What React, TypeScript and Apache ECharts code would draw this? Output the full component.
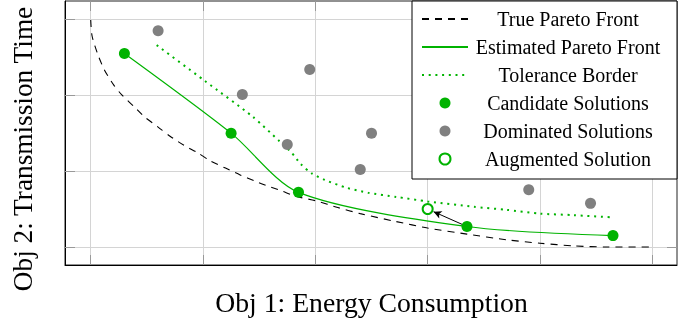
import React, { useEffect, useRef } from "react";
import * as echarts from "echarts";

const FONT = "'Liberation Serif', 'DejaVu Serif', serif";
const GREEN = "#00b300";
const GRAY = "#808080";

const xTicks = [0, 1, 2, 3, 4, 5];
const yTicks = [0, 1, 2, 3];

const truePareto: [number, number][] = [
  [0, 2.99], [0.012, 2.78], [0.065, 2.53], [0.123, 2.33], [0.207, 2.13],
  [0.279, 2.0], [0.379, 1.86], [0.483, 1.71], [0.6, 1.58], [0.706, 1.46],
  [0.83, 1.34], [0.955, 1.24], [1.07, 1.13], [1.2, 1.04], [1.33, 0.95],
  [1.46, 0.87], [1.58, 0.8], [1.7, 0.74], [1.82, 0.67], [2.0, 0.61],
  [2.2, 0.52], [2.4, 0.44], [2.72, 0.335], [3.0, 0.25], [3.35, 0.17],
  [3.7, 0.095], [4.0, 0.05], [4.3, 0.015], [4.6, 0.0], [5.0, 0.0],
];

const candidates: [number, number][] = [
  [0.3, 2.55], [1.25, 1.5], [1.85, 0.72], [3.35, 0.27], [4.65, 0.15],
];

const tolerance: [number, number][] = [
  [0.587, 2.66], [1.017, 2.187], [1.442, 1.717], [1.685, 1.387],
  [1.789, 1.242], [1.872, 1.09], [1.967, 0.971], [2.086, 0.883],
  [2.28, 0.78], [2.47, 0.715], [2.72, 0.66], [3.0, 0.6], [3.41, 0.53],
  [3.7, 0.49], [4.0, 0.44], [4.3, 0.42], [4.65, 0.39],
];

const dominated: [number, number][] = [
  [0.6, 2.85], [1.35, 2.01], [1.95, 2.34], [1.75, 1.35], [2.5, 1.5],
  [2.4, 1.02], [3.9, 0.755], [4.45, 0.575],
];

const augmented: [number, number][] = [[3.0, 0.5]];
const arrowFromIndex = 3;

const legendNames = [
  "True Pareto Front",
  "Estimated Pareto Front",
  "Tolerance Border",
  "Candidate Solutions",
  "Dominated Solutions",
  "Augmented Solution",
];

export default function App() {
  const ref = useRef<HTMLDivElement>(null);
  useEffect(() => {
    if (!ref.current) return;
    const chart = echarts.init(ref.current, undefined, { renderer: "svg" });
    const from = candidates[arrowFromIndex];
    const aug = augmented[0];
    const f = 0.15;
    const tip = [aug[0] + (from[0] - aug[0]) * f, aug[1] + (from[1] - aug[1]) * f];

    const xMin = -0.229, xMax = 5.22, yMin = -0.237, yMax = 3.241;
    const tickStyle = { show: true, inside: true, length: 10, lineStyle: { color: "#999", width: 1 } };
    const lineItems = [0, 1, 2];

    chart.setOption({
      animation: false,
      grid: { left: 65, right: 17, top: 1, bottom: 60, show: true, borderColor: "#222", borderWidth: 1, backgroundColor: "transparent" },
      xAxis: [
        {
          type: "value", min: xMin, max: xMax, position: "bottom",
          axisLine: { show: true, onZero: false, lineStyle: { color: "#000", width: 1 } },
          axisTick: { ...tickStyle, customValues: xTicks },
          axisLabel: { show: false, customValues: xTicks },
          splitLine: { show: true, lineStyle: { color: "#d4d4d4", width: 1 } },
        },
        {
          type: "value", min: xMin, max: xMax, position: "top",
          axisLine: { show: false, onZero: false },
          axisTick: { ...tickStyle, customValues: xTicks },
          axisLabel: { show: false, customValues: xTicks },
          splitLine: { show: false },
        },
      ],
      yAxis: [
        {
          type: "value", min: yMin, max: yMax, position: "left",
          axisLine: { show: true, onZero: false, lineStyle: { color: "#000", width: 1 } },
          axisTick: { ...tickStyle, customValues: yTicks },
          axisLabel: { show: false, customValues: yTicks },
          splitLine: { show: true, lineStyle: { color: "#d4d4d4", width: 1 } },
        },
        {
          type: "value", min: yMin, max: yMax, position: "right",
          axisLine: { show: false, onZero: false },
          axisTick: { ...tickStyle, customValues: yTicks },
          axisLabel: { show: false, customValues: yTicks },
          splitLine: { show: false },
        },
      ],
      legend: {
        orient: "vertical",
        left: 412,
        top: 1,
        padding: [8, 14, 10, 9],
        itemWidth: 46,
        itemHeight: 11,
        itemGap: 8,
        borderColor: "#000",
        borderWidth: 1,
        backgroundColor: "#fff",
        data: legendNames.map((name, i) =>
          lineItems.includes(i) ? { name, itemStyle: { opacity: 0 } } : { name }
        ),
        formatter: (name: string) => `{t|${name}}`,
        textStyle: {
          color: "#000",
          fontFamily: FONT,
          fontSize: 20,
          lineHeight: 20,
          rich: { t: { width: 190, align: "center", fontFamily: FONT, fontSize: 20, lineHeight: 20, color: "#000" } },
        },
      },
      graphic: [
        {
          type: "text", x: 371.5, y: 302,
          style: { text: "Obj 1: Energy Consumption", font: `27.7px ${FONT}`, fill: "#000", align: "center", verticalAlign: "middle" },
        },
        {
          type: "text", x: 23, y: 149, rotation: Math.PI / 2,
          style: { text: "Obj 2: Transmission Time", font: `27.3px ${FONT}`, fill: "#000", align: "center", verticalAlign: "middle" },
        },
      ],
      series: [
        {
          name: legendNames[0], type: "line", data: truePareto, smooth: 0.25, symbol: "none",
          lineStyle: { color: "#000", width: 1.1, type: [7, 6] }, itemStyle: { color: "#000" }, z: 2,
        },
        {
          name: legendNames[1], type: "line", data: candidates, smooth: 0.28, symbol: "none",
          lineStyle: { color: GREEN, width: 1.2 }, itemStyle: { color: GREEN }, z: 3,
        },
        {
          name: legendNames[2], type: "line", data: tolerance, smooth: 0.25, symbol: "none",
          lineStyle: { color: GREEN, width: 2, type: [2, 4.7] }, itemStyle: { color: GREEN }, z: 3,
        },
        {
          name: legendNames[3], type: "scatter", data: candidates, symbol: "circle", symbolSize: 11,
          itemStyle: { color: GREEN, opacity: 1 }, z: 5,
        },
        {
          name: legendNames[4], type: "scatter", data: dominated, symbol: "circle", symbolSize: 11,
          itemStyle: { color: GRAY, opacity: 1 }, z: 5,
        },
        {
          name: legendNames[5], type: "scatter", data: augmented, symbol: "circle", symbolSize: 10,
          itemStyle: { color: "#fff", borderColor: GREEN, borderWidth: 2, opacity: 1 }, z: 5,
          markLine: {
            silent: true, animation: false,
            symbol: ["none", "arrow"], symbolSize: [6, 8],
            label: { show: false },
            lineStyle: { color: "#000", width: 1, type: "solid" },
            data: [[{ coord: from }, { coord: tip }]],
          },
        },
      ],
    });
    return () => chart.dispose();
  }, []);
  return <div ref={ref} style={{ position: "fixed", left: 0, top: 0, width: 694, height: 325 }} />;
}
